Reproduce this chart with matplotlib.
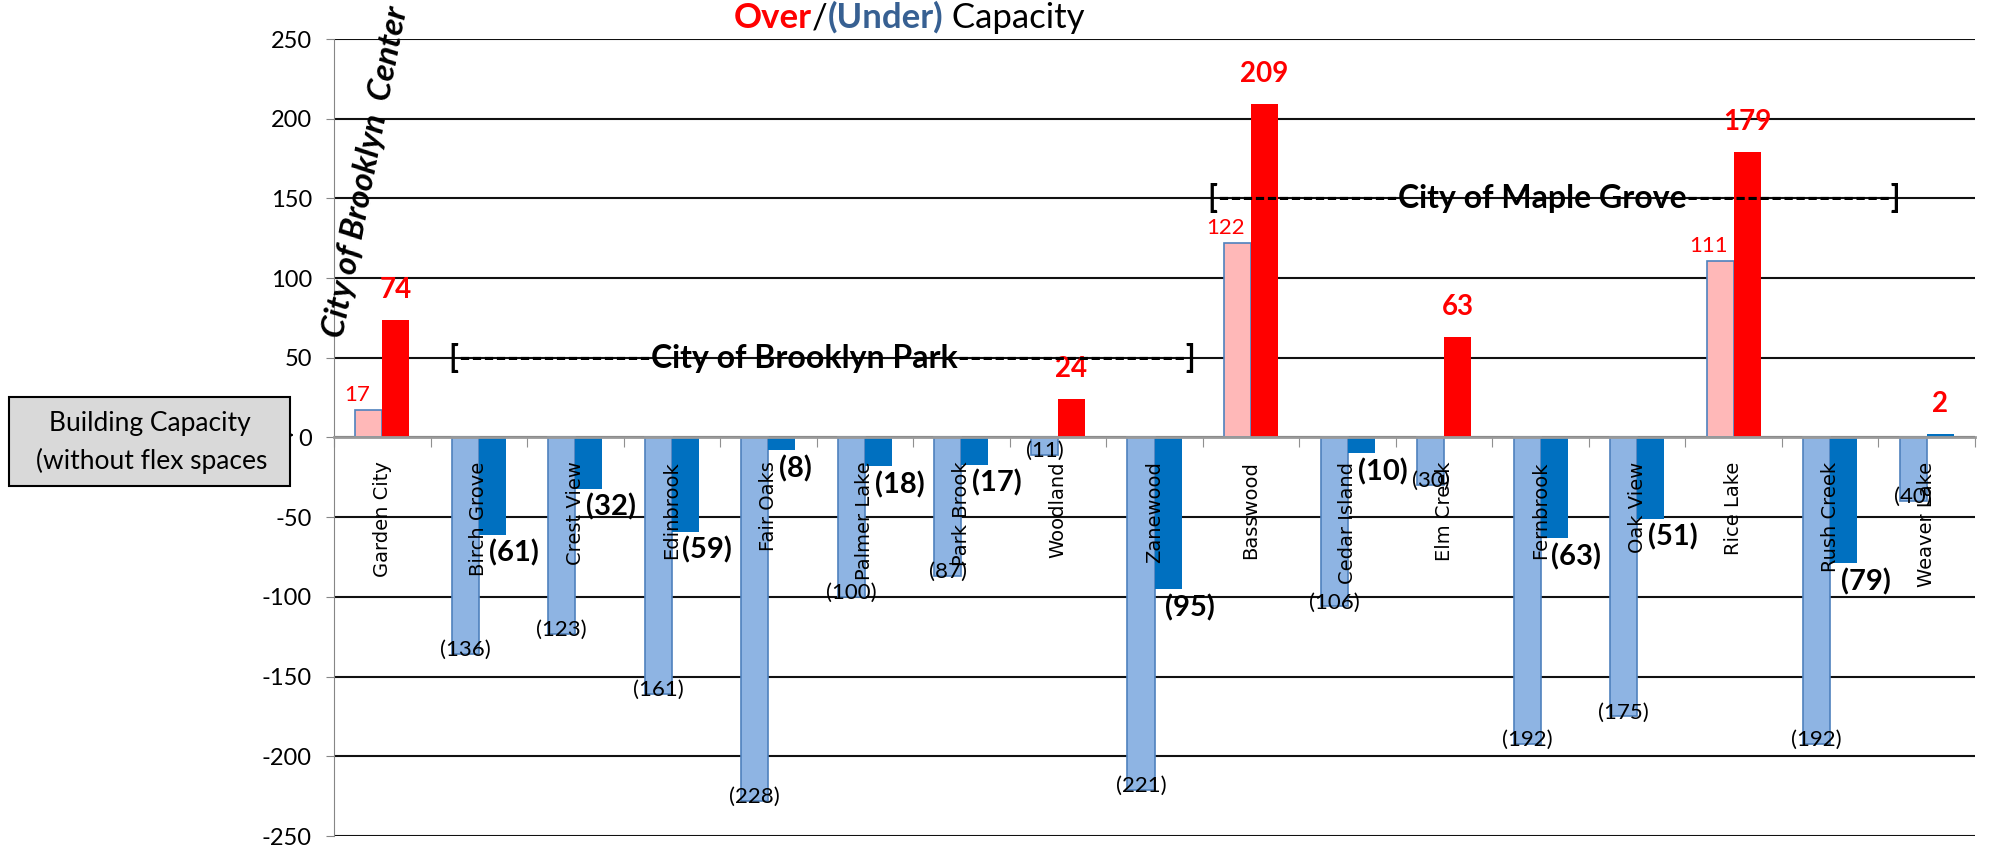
import matplotlib
matplotlib.use('Agg')
import matplotlib.pyplot as plt
from matplotlib.patches import Rectangle, FancyArrowPatch

plt.rcParams['axes.unicode_minus'] = False

schools = ['Garden City', 'Birch Grove', 'Crest View', 'Edinbrook', 'Fair Oaks',
           'Palmer Lake', 'Park Brook', 'Woodland', 'Zanewood', 'Basswood',
           'Cedar Island', 'Elm Creek', 'Fernbrook', 'Oak View', 'Rice Lake',
           'Rush Creek', 'Weaver Lake']
# building capacity without flex spaces (light bars)
no_flex = [17, -136, -123, -161, -228, -100, -87, -11, -221, 122,
           -106, -30, -192, -175, 111, -192, -40]
# over/(under) capacity (dark bars)
over_under = [74, -61, -32, -59, -8, -18, -17, 24, -95, 209,
              -10, 63, -63, -51, 179, -79, 2]
yticks = [250, 200, 150, 100, 50, 0, -50, -100, -150, -200, -250]

W, H = 1991, 846
CAL = ['Lato', 'DejaVu Sans']

def fx(x):
    return x / W

def fy(y):
    return 1 - y / H

fig = plt.figure(figsize=(W / 100, H / 100), dpi=100)
ax = fig.add_axes([fx(334), fy(836), (1975 - 334) / W, (836 - 39) / H])

n = len(schools)
w = 0.28
xs = list(range(n))

light_colors = ['#FFB8B8' if v > 0 else '#8EB4E3' for v in no_flex]
# the tiny Weaver Lake bar stays blue in the original
dark_colors = ['#FF0000' if v > 2 else '#0070C0' for v in over_under]

ax.bar([x - w / 2 for x in xs], no_flex, width=w, color=light_colors,
       edgecolor='#4F81BD', linewidth=1.2, zorder=3)
ax.bar([x + w / 2 for x in xs], over_under, width=w, color=dark_colors,
       linewidth=0, zorder=3)

ax.set_xlim(-0.5, n - 0.5)
ax.set_ylim(-250, 250)
ax.set_yticks(yticks)
ax.set_yticklabels([str(t) for t in yticks], family=CAL, fontsize=17)
ax.set_xticks([x - 0.5 for x in range(n + 1)])
ax.set_xticklabels([])
ax.tick_params(axis='y', length=6, color='#868686', pad=10)
ax.tick_params(axis='x', length=7, color='#909090', direction='out')
ax.set_axisbelow(True)
ax.grid(axis='y', color='#111111', linewidth=1.5)
ax.spines['top'].set_visible(False)
ax.spines['right'].set_visible(False)
ax.spines['left'].set_color('#868686')
ax.spines['bottom'].set_position(('data', 0))
ax.spines['bottom'].set_color('#9A9A9A')
ax.spines['bottom'].set_linewidth(2)
ax.spines['bottom'].set_zorder(4)

# category names under the zero line
for i, name in enumerate(schools):
    ax.annotate(name, (i, 0), xytext=(0, -24), textcoords='offset pixels',
                rotation=90, ha='center', va='top', fontsize=14,
                family='DejaVu Sans', zorder=6)

# value labels
for i, v in enumerate(no_flex):
    if v > 0:
        ax.annotate(str(v), (i - w / 2, v), xytext=(-12, 15), textcoords='offset pixels',
                    ha='center', va='center', color='red', fontsize=16, family=CAL, zorder=6)
    else:
        ax.annotate('(%d)' % -v, (i - w / 2, v), xytext=(0, 4), textcoords='offset pixels',
                    ha='center', va='center', color='black', fontsize=16, family=CAL, zorder=6)

for i, v in enumerate(over_under):
    if v > 0:
        ax.annotate(str(v), (i + w / 2, v), xytext=(0, 30), textcoords='offset pixels',
                    ha='center', va='center', color='red', fontsize=20,
                    fontweight='bold', family=CAL, zorder=6)
    else:
        ax.annotate('(%d)' % -v, (i + w / 2, v), xytext=(-3, -5), textcoords='offset pixels',
                    ha='left', va='top', color='black', fontsize=21,
                    fontweight='bold', family=CAL, zorder=6)

# city brackets
ax.text(0.69, 50, '[' + '-' * 16 + 'City of Brooklyn Park' + '-' * 19 + ']',
        ha='left', va='center', fontsize=23, fontweight='bold', family=CAL, zorder=6)
ax.text(8.55, 150, '[' + '-' * 15 + 'City of Maple Grove' + '-' * 17 + ']',
        ha='left', va='center', fontsize=23, fontweight='bold', family=CAL, zorder=6)
fig.text(fx(366), fy(172), 'City of Brooklyn  Center', rotation=79,
         rotation_mode='anchor', ha='center', va='center', fontsize=24,
         fontweight='bold', fontstyle='italic', family=CAL)

# title in pieces
t1 = fig.text(fx(734), fy(28), 'Over', color='#FF0000', fontweight='bold',
              fontsize=25, family=CAL, ha='left', va='baseline')
t2 = ax.annotate('/', xy=(1, 0), xycoords=t1, ha='left', va='bottom',
                 fontsize=25, family=CAL, color='black', annotation_clip=False)
t3 = ax.annotate('(Under)', xy=(1, 0), xycoords=t2, ha='left', va='bottom',
                 fontsize=25, family=CAL, color='#376092', fontweight='bold',
                 annotation_clip=False)
ax.annotate(' Capacity', xy=(1, 0), xycoords=t3, ha='left', va='bottom',
            fontsize=25, family=CAL, color='black', annotation_clip=False)

# side box with arrow
fig.patches.append(Rectangle((fx(9), fy(486)), (290 - 9) / W, (486 - 397) / H,
                             transform=fig.transFigure, facecolor='#D9D9D9',
                             edgecolor='black', linewidth=1.5))
fig.text(fx(150), fy(424), 'Building Capacity', ha='center', va='center',
         fontsize=19, family=CAL)
fig.text(fx(152), fy(461), '(without flex spaces', ha='center', va='center',
         fontsize=19, family=CAL)
fig.add_artist(FancyArrowPatch(
    (fx(15), fy(435)), (fx(297), fy(435)), transform=fig.transFigure,
    arrowstyle='-|>', mutation_scale=22, color='black', linewidth=1.5))

fig.savefig('out.png', dpi=100)
